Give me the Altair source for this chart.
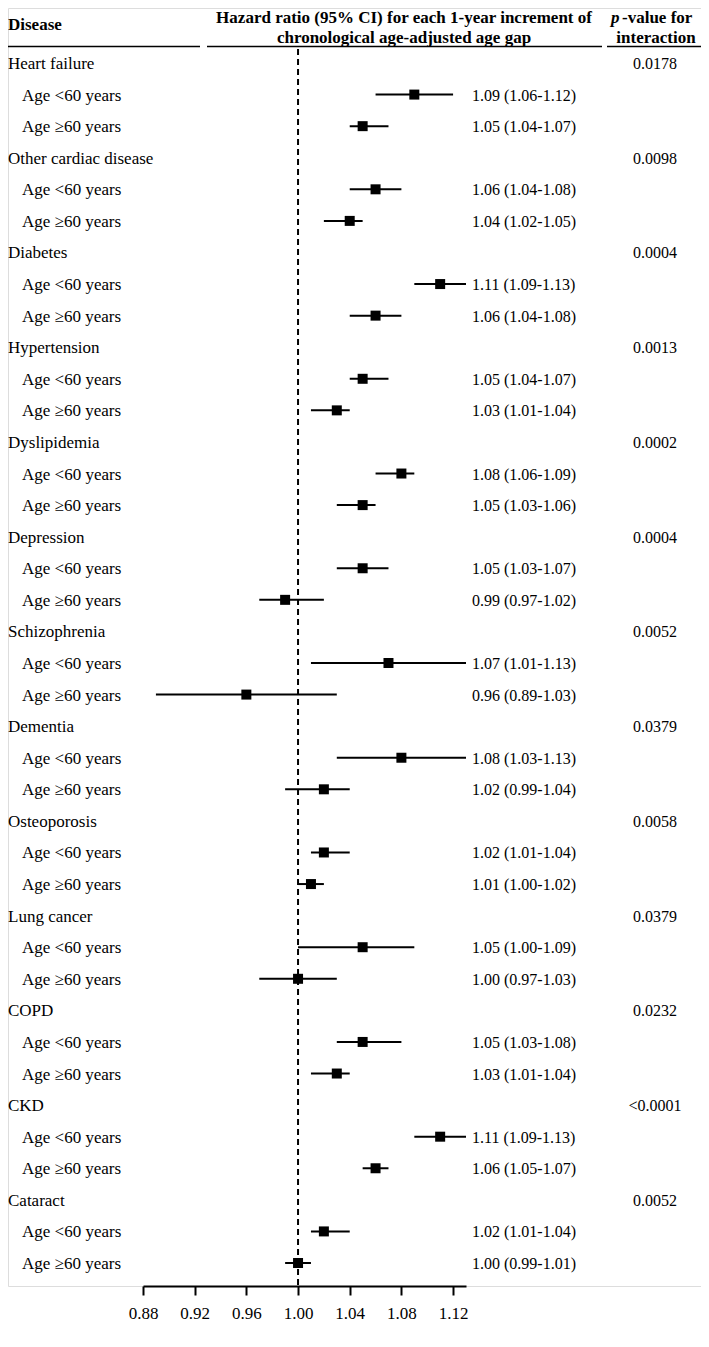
import altair as alt
import pandas as pd

diseases = ["Heart failure", "Other cardiac disease", "Diabetes", "Hypertension",
            "Dyslipidemia", "Depression", "Schizophrenia", "Dementia", "Osteoporosis",
            "Lung cancer", "COPD", "CKD", "Cataract"]
p_values = ["0.0178", "0.0098", "0.0004", "0.0013", "0.0002", "0.0004", "0.0052",
            "0.0379", "0.0058", "0.0379", "0.0232", "<0.0001", "0.0052"]
subgroups = ["Age <60 years", "Age \u226560 years"]

hr_lt60 = [1.09, 1.06, 1.11, 1.05, 1.08, 1.05, 1.07, 1.08, 1.02, 1.05, 1.05, 1.11, 1.02]
lo_lt60 = [1.06, 1.04, 1.09, 1.04, 1.06, 1.03, 1.01, 1.03, 1.01, 1.00, 1.03, 1.09, 1.01]
hi_lt60 = [1.12, 1.08, 1.13, 1.07, 1.09, 1.07, 1.13, 1.13, 1.04, 1.09, 1.08, 1.13, 1.04]

hr_ge60 = [1.05, 1.04, 1.06, 1.03, 1.05, 0.99, 0.96, 1.02, 1.01, 1.00, 1.03, 1.06, 1.00]
lo_ge60 = [1.04, 1.02, 1.04, 1.01, 1.03, 0.97, 0.89, 0.99, 1.00, 0.97, 1.01, 1.05, 0.99]
hi_ge60 = [1.07, 1.05, 1.08, 1.04, 1.06, 1.02, 1.03, 1.04, 1.02, 1.03, 1.04, 1.07, 1.01]

x_ticks = [0.88, 0.92, 0.96, 1.00, 1.04, 1.08, 1.12]
ref_value = [1.0]

header_disease = "Disease"
header_hr = ["Hazard ratio (95% CI) for each 1-year increment of",
             "chronological age-adjusted age gap"]
header_p = ["p", "-value for", "interaction"]

rows = []
for i, d in enumerate(diseases):
    rows.append(dict(row=3 * i, label=d, kind="disease", pval=p_values[i]))
    for j, (hr, lo, hi) in enumerate([(hr_lt60[i], lo_lt60[i], hi_lt60[i]),
                                      (hr_ge60[i], lo_ge60[i], hi_ge60[i])]):
        rows.append(dict(row=3 * i + 1 + j, label=subgroups[j], kind="sub",
                         hr=hr, lo=lo, hi=hi,
                         ci=f"{hr:.2f} ({lo:.2f}-{hi:.2f})"))
df = pd.DataFrame(rows)
n_rows = len(df)

FONT = "Liberation Serif"
W, H = 693, 1278

xscale = alt.Scale(domain=[0.88, 1.13], range=[135, 458], nice=False, zero=False)
yscale = alt.Scale(domain=[0, n_rows - 1], range=[55, 1255], nice=False, zero=False)
xaxis = alt.Axis(values=x_ticks, format=".2f", title=None, grid=False,
                 domainColor="black", domainWidth=2, tickColor="black",
                 tickWidth=2, tickSize=9, labelFont=FONT, labelFontSize=17,
                 labelColor="black", labelPadding=10, labelFlush=False,
                 labelOverlap=False)
Y = alt.Y("row:Q", scale=yscale, axis=None)

base = alt.Chart(df)

txt = dict(font=FONT, fontSize=17, color="black", baseline="alphabetic", dy=6)

disease_lbl = base.transform_filter(alt.datum.kind == "disease").mark_text(
    align="left", **txt).encode(x=alt.value(0), y=Y, text="label:N")
sub_lbl = base.transform_filter(alt.datum.kind == "sub").mark_text(
    align="left", **txt).encode(x=alt.value(14), y=Y, text="label:N")
pval_lbl = base.transform_filter(alt.datum.kind == "disease").mark_text(
    align="center", font=FONT, fontSize=16, color="black", baseline="alphabetic",
    dy=6).encode(x=alt.value(647), y=Y, text="pval:N")
ci_lbl = base.transform_filter(alt.datum.kind == "sub").mark_text(
    align="left", font=FONT, fontSize=16, color="black", baseline="alphabetic",
    dy=6).encode(x=alt.value(464), y=Y, text="ci:N")

ci_rule = base.transform_filter(alt.datum.kind == "sub").mark_rule(
    color="black", strokeWidth=2).encode(
    x=alt.X("lo:Q", scale=xscale, axis=xaxis), x2="hi:Q", y=Y)
pts = base.transform_filter(alt.datum.kind == "sub").mark_square(
    color="black", size=100, opacity=1, filled=True).encode(
    x=alt.X("hr:Q", scale=xscale, axis=xaxis), y=Y)

ref = alt.Chart(pd.DataFrame({"ref": ref_value})).mark_rule(
    color="black", strokeWidth=2, strokeDash=[6, 4]).encode(
    x=alt.X("ref:Q", scale=xscale, axis=xaxis), y=alt.value(41), y2=alt.value(H))

one = alt.Chart(pd.DataFrame({"a": [0]}))
hdr = dict(font=FONT, fontSize=17, fontWeight="bold", color="black",
           baseline="alphabetic")
h1 = one.mark_text(align="left", text=header_disease, **hdr).encode(
    x=alt.value(0), y=alt.value(22))
h2 = one.mark_text(align="center", text=header_hr[0], **hdr).encode(
    x=alt.value(396), y=alt.value(15))
h3 = one.mark_text(align="center", text=header_hr[1], **hdr).encode(
    x=alt.value(396), y=alt.value(35))
h4 = one.mark_text(align="left", text=header_p[0], fontStyle="italic", **hdr).encode(
    x=alt.value(603), y=alt.value(15))
h5 = one.mark_text(align="left", text=header_p[1], **hdr).encode(
    x=alt.value(614), y=alt.value(15))
h6 = one.mark_text(align="center", text=header_p[2], **hdr).encode(
    x=alt.value(648), y=alt.value(35))

line_style = dict(color="black", strokeWidth=1.5)
l1 = one.mark_rule(**line_style).encode(x=alt.value(0), x2=alt.value(192), y=alt.value(38.5))
l2 = one.mark_rule(**line_style).encode(x=alt.value(199), x2=alt.value(594), y=alt.value(38.5))
l3 = one.mark_rule(**line_style).encode(x=alt.value(599), x2=alt.value(W), y=alt.value(38.5))

chart = alt.layer(
    ref, ci_rule, pts, disease_lbl, sub_lbl, pval_lbl, ci_lbl,
    h1, h2, h3, h4, h5, h6, l1, l2, l3
).properties(
    width=W, height=H,
    autosize=alt.AutoSizeParams(type="none"),
    padding={"left": 0, "top": 0, "right": 0, "bottom": 53},
).configure_view(stroke=None).configure(background="white")

chart.save("out.html", embed_options={"renderer": "svg", "actions": False})
